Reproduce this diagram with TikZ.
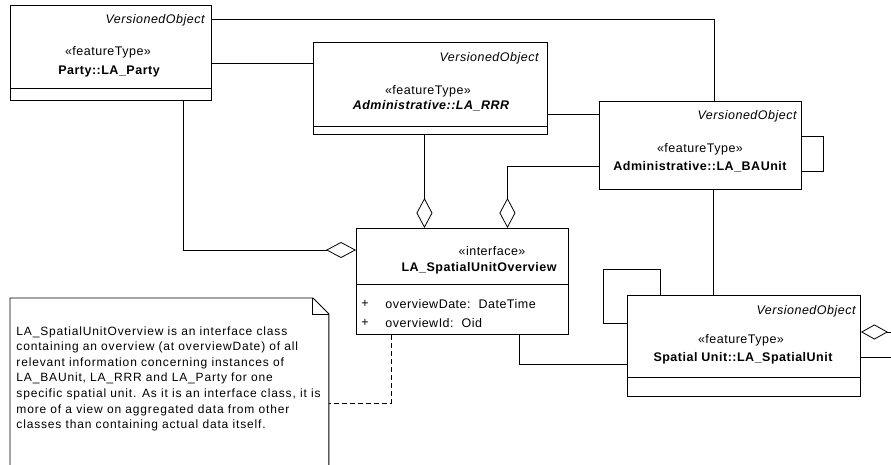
\documentclass[tikz,border=0pt]{standalone}
\usepackage{fontspec}
\setmainfont{Liberation Sans}
\newfontfamily\umlfont[LetterSpace=4]{Liberation Sans}
\newfontfamily\notefont[LetterSpace=7]{Liberation Sans}
\usetikzlibrary{arrows.meta}

\begin{document}
\begin{tikzpicture}[x=1pt,y=-1pt,line width=0.9pt,
  classbox/.style={draw,anchor=north west,inner sep=0pt},
  vo/.style={anchor=east,inner sep=0pt,font=\umlfont\fontsize{12.5}{14}\selectfont\itshape},
  stereo/.style={inner sep=0pt,font=\umlfont\fontsize{12.5}{14}\selectfont},
  cname/.style={inner sep=0pt,font=\umlfont\fontsize{12.5}{14}\selectfont\bfseries},
  attr/.style={anchor=west,inner sep=0pt,font=\umlfont\fontsize{12.5}{14}\selectfont},
  agg/.style={-{Diamond[open,length=30pt,width=16pt]}},
  aggside/.style={{Diamond[open,length=27pt,width=15pt]}-},
  conn/.style={draw,line width=0.8pt}]

\useasboundingbox (0,0) rectangle (891,465);
\fill[white] (0,0) rectangle (891,465);

% ---- classes ----
\node[classbox,minimum width=201pt,minimum height=95pt] (party) at (10,5) {};
\node[classbox,minimum width=234pt,minimum height=92pt] (rrr) at (313,42) {};
\node[classbox,minimum width=202pt,minimum height=88pt] (bau) at (599,101) {};
\node[classbox,minimum width=212pt,minimum height=106pt] (suo) at (356,228) {};
\node[classbox,minimum width=233pt,minimum height=101pt] (su) at (627,295) {};

% compartment separators
\draw ([yshift=12pt]party.south west) -- ([yshift=12pt]party.south east);
\draw ([yshift=8pt]rrr.south west) -- ([yshift=8pt]rrr.south east);
\draw ([yshift=50pt]suo.south west) -- ([yshift=50pt]suo.south east);
\draw ([yshift=19pt]su.south west) -- ([yshift=19pt]su.south east);

% class texts
\node[vo] (partyvo) at (205,20) {VersionedObject};
\node[stereo] (partyst) at (108,52) {«featureType»};
\node[cname] (partynm) at (109,71) {Party::LA\_Party};

\node[vo] (rrrvo) at (539,58) {VersionedObject};
\node[stereo] (rrrst) at (428,91) {«featureType»};
\node[cname,font=\umlfont\fontsize{12.5}{14}\selectfont\bfseries\itshape] (rrrnm) at (431,106) {Administrative::LA\_RRR};

\node[vo] (bauvo) at (797,116) {VersionedObject};
\node[stereo] (baust) at (700,149) {«featureType»};
\node[cname] (baunm) at (700,167) {Administrative::LA\_BAUnit};

\node[stereo] (suost) at (492,251) {«interface»};
\node[cname] (suonm) at (479,268) {LA\_SpatialUnitOverview};
\node[stereo] (plus1) at (365,304) {+};
\node[stereo] (plus2) at (365,323) {+};
\node[attr] (attr1) at (385,304) {overviewDate:\ \ DateTime};
\node[attr] (attr2) at (385,323) {overviewId:\ \ Oid};

\node[vo] (suvo) at (856,311) {VersionedObject};
\node[stereo] (sust) at (741,340) {«featureType»};
\node[cname] (sunm) at (743,358) {Spatial Unit::LA\_SpatialUnit};

% ---- note ----
\node[anchor=north west,inner sep=0pt,minimum width=318pt,minimum height=168pt] (note) at (10,298) {};
\draw ([yshift=-2pt]note.south west) -- (note.north west) -- ([xshift=-16pt]note.north east)
      -- ([yshift=-16pt]note.north east) -- ([yshift=-2pt]note.south east);
\draw ([xshift=-16pt]note.north east) -- ([xshift=-16pt,yshift=-16pt]note.north east)
      -- ([yshift=-16pt]note.north east);
\node[anchor=north west,inner sep=0pt,align=left,
      font=\notefont\fontsize{12}{15.6}\selectfont] (notetext) at (16,326)
  {LA\_SpatialUnitOverview is an interface class\\
   containing an overview (at overviewDate) of all\\
   relevant information concerning instances of\\
   LA\_BAUnit, LA\_RRR and LA\_Party for one\\
   specific spatial unit. As it is an interface class, it is\\
   more of a view on aggregated data from other\\
   classes than containing actual data itself.};

% ---- connectors ----
\coordinate (edgeA) at (891,332);
\coordinate (edgeB) at (891,357);

\draw[conn] ([yshift=-14pt]party.north east) -| ([xshift=14pt]bau.north);
\draw[conn] ([yshift=-58pt]party.north east) coordinate (p2) -- (p2 -| rrr.west);
\draw[conn] ([yshift=-72pt]rrr.north east) coordinate (r2) -- (r2 -| bau.west);

\draw[conn,agg] ([yshift=-65pt]bau.north west) -| ([xshift=45pt]suo.north);
\draw[conn,agg] ([xshift=-6pt]rrr.south) -- ([xshift=-38pt]suo.north);
\draw[conn,agg] ([xshift=72.5pt]party.south) |- ([yshift=-22pt]suo.north west);

\draw[conn] ([yshift=9pt]bau.east) -- ++(21pt,0) |- ([yshift=-26pt]bau.east);
\draw[conn] ([xshift=13pt]bau.south) -- ([xshift=13pt]bau.south |- su.north);

\draw[conn] ([xshift=33pt]su.north west) -- ++(0,26pt) -- ++(-57pt,0)
      |- ([yshift=-28pt]su.north west);
\draw[conn] ([xshift=163pt]suo.south west) |- ([yshift=-69pt]su.north west);

\draw[conn,aggside] ([yshift=-37pt]su.north east) -- (edgeA);
\draw[conn] ([yshift=-62pt]su.north east) -- (edgeB);

\draw[conn,dashed,dash pattern=on 5pt off 3pt] ([xshift=35pt]suo.south west)
      |- ([yshift=-105pt]note.north east);
\end{tikzpicture}
\end{document}
